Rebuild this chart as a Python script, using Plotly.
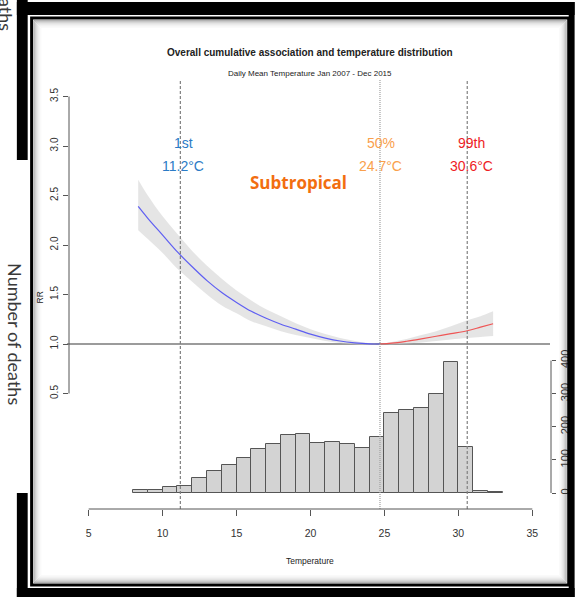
import plotly.graph_objects as go

# ---- data -------------------------------------------------------------
# Histogram of daily mean temperature (1 degree C bins, left edges) and counts
bin_left = [8, 9, 10, 11, 12, 13, 14, 15, 16, 17, 18, 19, 20, 21, 22, 23,
            24, 25, 26, 27, 28, 29, 30, 31, 32]
bin_count = [8, 10, 19, 21, 46, 67, 84, 107, 132, 148, 174, 179, 150, 154,
             148, 135, 170, 243, 250, 258, 300, 397, 139, 7, 3]

# Cumulative relative risk below the median temperature (cold side)
cold_temp = [8.35, 9, 10, 11, 12, 13, 14, 15, 16, 17, 18, 19, 20, 21, 22,
             23, 24, 24.7]
cold_rr = [2.39, 2.27, 2.10, 1.93, 1.78, 1.64, 1.52, 1.42, 1.33, 1.26, 1.20,
           1.15, 1.10, 1.06, 1.03, 1.012, 1.002, 1.0]
cold_hi = [2.66, 2.50, 2.29, 2.11, 1.94, 1.79, 1.66, 1.54, 1.44, 1.35, 1.28,
           1.21, 1.15, 1.10, 1.06, 1.03, 1.008, 1.0]
cold_lo = [2.15, 2.06, 1.92, 1.76, 1.63, 1.50, 1.39, 1.31, 1.23, 1.18, 1.13,
           1.09, 1.06, 1.03, 1.01, 0.997, 0.996, 1.0]

# Cumulative relative risk above the median temperature (hot side)
hot_temp = [24.7, 25.5, 26.5, 27.5, 28.5, 29.5, 30.6, 31.5, 32.35]
hot_rr = [1.0, 1.008, 1.028, 1.052, 1.078, 1.104, 1.134, 1.17, 1.205]
hot_hi = [1.0, 1.02, 1.05, 1.09, 1.13, 1.18, 1.24, 1.28, 1.33]
hot_lo = [1.0, 0.998, 1.005, 1.015, 1.03, 1.045, 1.06, 1.07, 1.08]

# Temperature percentiles
pct_names = ["1st", "50%", "99th"]
pct_temp = [11.2, 24.7, 30.6]
pct_colors = ["#2B7BC6", "#F9A04C", "#EE1C25"]

x_ticks = [5, 10, 15, 20, 25, 30, 35]
rr_ticks = [0.5, 1.0, 1.5, 2.0, 2.5, 3.0, 3.5]
death_ticks = [0, 100, 200, 300, 400]

# ---- page geometry (pixels) -------------------------------------------
W, H = 583, 597
ML, MR, MT, MB = 69, 24, 80, 88
PW, PH = W - ML - MR, H - MT - MB

SANS = "Liberation Sans, Arial, sans-serif"


def px(x):
    return (x - ML) / PW


def py(y):
    return (H - MB - y) / PH


fig = go.Figure()

# confidence band
band_t = cold_temp + hot_temp[1:]
band_hi = cold_hi + hot_hi[1:]
band_lo = cold_lo + hot_lo[1:]
fig.add_trace(go.Scatter(x=band_t, y=band_hi, mode="lines", line=dict(width=0),
                         line_shape="spline", hoverinfo="skip", showlegend=False))
fig.add_trace(go.Scatter(x=band_t, y=band_lo, mode="lines", line=dict(width=0),
                         line_shape="spline", fill="tonexty",
                         fillcolor="rgba(215,215,215,0.65)",
                         hoverinfo="skip", showlegend=False))

# RR curves
fig.add_trace(go.Scatter(x=cold_temp, y=cold_rr, mode="lines", line_shape="spline",
                         line=dict(color="rgba(70,70,245,0.85)", width=1.2),
                         showlegend=False))
fig.add_trace(go.Scatter(x=hot_temp, y=hot_rr, mode="lines", line_shape="spline",
                         line=dict(color="rgba(240,70,70,0.9)", width=1.2),
                         showlegend=False))

# temperature histogram on the secondary axis
fig.add_trace(go.Bar(x=[b + 0.5 for b in bin_left], y=bin_count, width=1,
                     yaxis="y2",
                     marker=dict(color="#D3D3D3", line=dict(color="#555555", width=1)),
                     showlegend=False))

shapes = []
# reference line RR = 1
shapes.append(dict(type="line", xref="paper", yref="y", x0=px(67), x1=px(558),
                   y0=1, y1=1, line=dict(color="#7A7A7A", width=1.6), layer="below"))
# percentile lines
for t, dash, col in zip(pct_temp, ["3px,2px", "1px,1px", "3px,2px"],
                        ["#808080", "#A0A0A0", "#808080"]):
    shapes.append(dict(type="line", xref="x", yref="paper", x0=t, x1=t, y0=0, y1=1,
                       line=dict(color=col, width=1.2, dash=dash), layer="above"))
# axis lines spanning the tick range only
shapes.append(dict(type="line", xref="x", yref="paper", x0=5, x1=35, y0=0, y1=0,
                   line=dict(color="#555555", width=1)))
shapes.append(dict(type="line", xref="paper", yref="y", x0=0, x1=0, y0=0.5, y1=3.5,
                   line=dict(color="#555555", width=1)))
shapes.append(dict(type="line", xref="paper", yref="y2", x0=1, x1=1, y0=0, y1=400,
                   line=dict(color="#555555", width=1)))


def rect(x0, y0, x1, y1, fill=None, line=None, lw=0, layer="above"):
    d = dict(type="rect", xref="paper", yref="paper",
             x0=px(x0), x1=px(x1), y0=py(y1), y1=py(y0), layer=layer)
    if fill:
        d["fillcolor"] = fill
    if line:
        d["line"] = dict(color=line, width=lw)
    else:
        d["line"] = dict(width=0)
    return d


# outer black frame
shapes.append(rect(16, 2, 583, 15, fill="black"))
shapes.append(rect(577, 2, 583, 597, fill="black"))
shapes.append(rect(16, 588, 583, 597, fill="black"))
shapes.append(rect(16, 0, 27, 160, fill="black"))
shapes.append(rect(16, 493, 27, 597, fill="black"))
# inner frame with soft inner shadow
for k, a in enumerate([0.30, 0.22, 0.16, 0.11, 0.08, 0.05, 0.03, 0.02]):
    o = 2.5 + k
    shapes.append(rect(31 + o, 18 + o, 577 - o, 585 - o,
                       line=f"rgba(0,0,0,{a})", lw=1, layer="below"))
shapes.append(rect(31, 18, 577, 585, line="black", lw=3))

annotations = []


def ann(text, x, y, size, color="#222222", family=SANS, angle=0, **kw):
    annotations.append(dict(text=text, x=px(x), y=py(y), xref="paper", yref="paper",
                            xanchor="center", yanchor="middle", showarrow=False,
                            textangle=angle,
                            font=dict(size=size, color=color, family=family), **kw))


ann("<b>Overall cumulative association and temperature distribution</b>", 314, 52, 10)
ann("Daily Mean Temperature Jan 2007 - Dec 2015", 314, 73, 8)
ann("RR", 40, 297, 8.5, angle=-90)
ann("Temperature", 314, 561, 8.5)

label_x = [185, 386, 478]
for name, t, col, lx in zip(pct_names, pct_temp, pct_colors, label_x):
    ann(name, lx, 143, 14, color=col)
    ann(f"{t:.1f}°C", lx, 166, 14, color=col)

ann("<b>Subtropical</b>", 302, 182, 17, color="#F26E10",
    family="Open Sans, Noto Sans, sans-serif")

ann("Number of deaths", 14, 334, 18, color="#3A3A3A",
    family="Lato, Open Sans, sans-serif", angle=90)
ann("Number of deaths", 5, -40, 18, color="#3A3A3A",
    family="Lato, Open Sans, sans-serif", angle=90)

fig.update_layout(
    width=W, height=H,
    margin=dict(l=ML, r=MR, t=MT, b=MB, pad=0),
    paper_bgcolor="white", plot_bgcolor="white",
    showlegend=False,
    bargap=0,
    xaxis=dict(range=[5 - 20 / 15.03, 35 + 19 / 15.03], tickvals=x_ticks,
               showgrid=False, zeroline=False, showline=False,
               ticks="outside", ticklen=6, tickcolor="#555555",
               ticklabelstandoff=8,
               tickfont=dict(family=SANS, size=10.5, color="#333333")),
    yaxis=dict(range=[1 - 165 / 99, 1 + 264 / 99], tickvals=rr_ticks,
               ticktext=[f"{v:.1f}" for v in rr_ticks],
               showgrid=False, zeroline=False, showline=False,
               ticks="outside", ticklen=5, tickcolor="#555555", tickangle=-90,
               ticklabelstandoff=1,
               tickfont=dict(family=SANS, size=10, color="#333333")),
    yaxis2=dict(range=[-16 * 3.02, 413 * 3.02], tickvals=death_ticks,
                overlaying="y", side="right",
                showgrid=False, zeroline=False, showline=False,
                ticks="outside", ticklen=4, tickcolor="#555555", tickangle=-90,
                ticklabelstandoff=0,
                tickfont=dict(family=SANS, size=11, color="#333333")),
    shapes=shapes,
    annotations=annotations,
)

fig.write_html("out.html")
